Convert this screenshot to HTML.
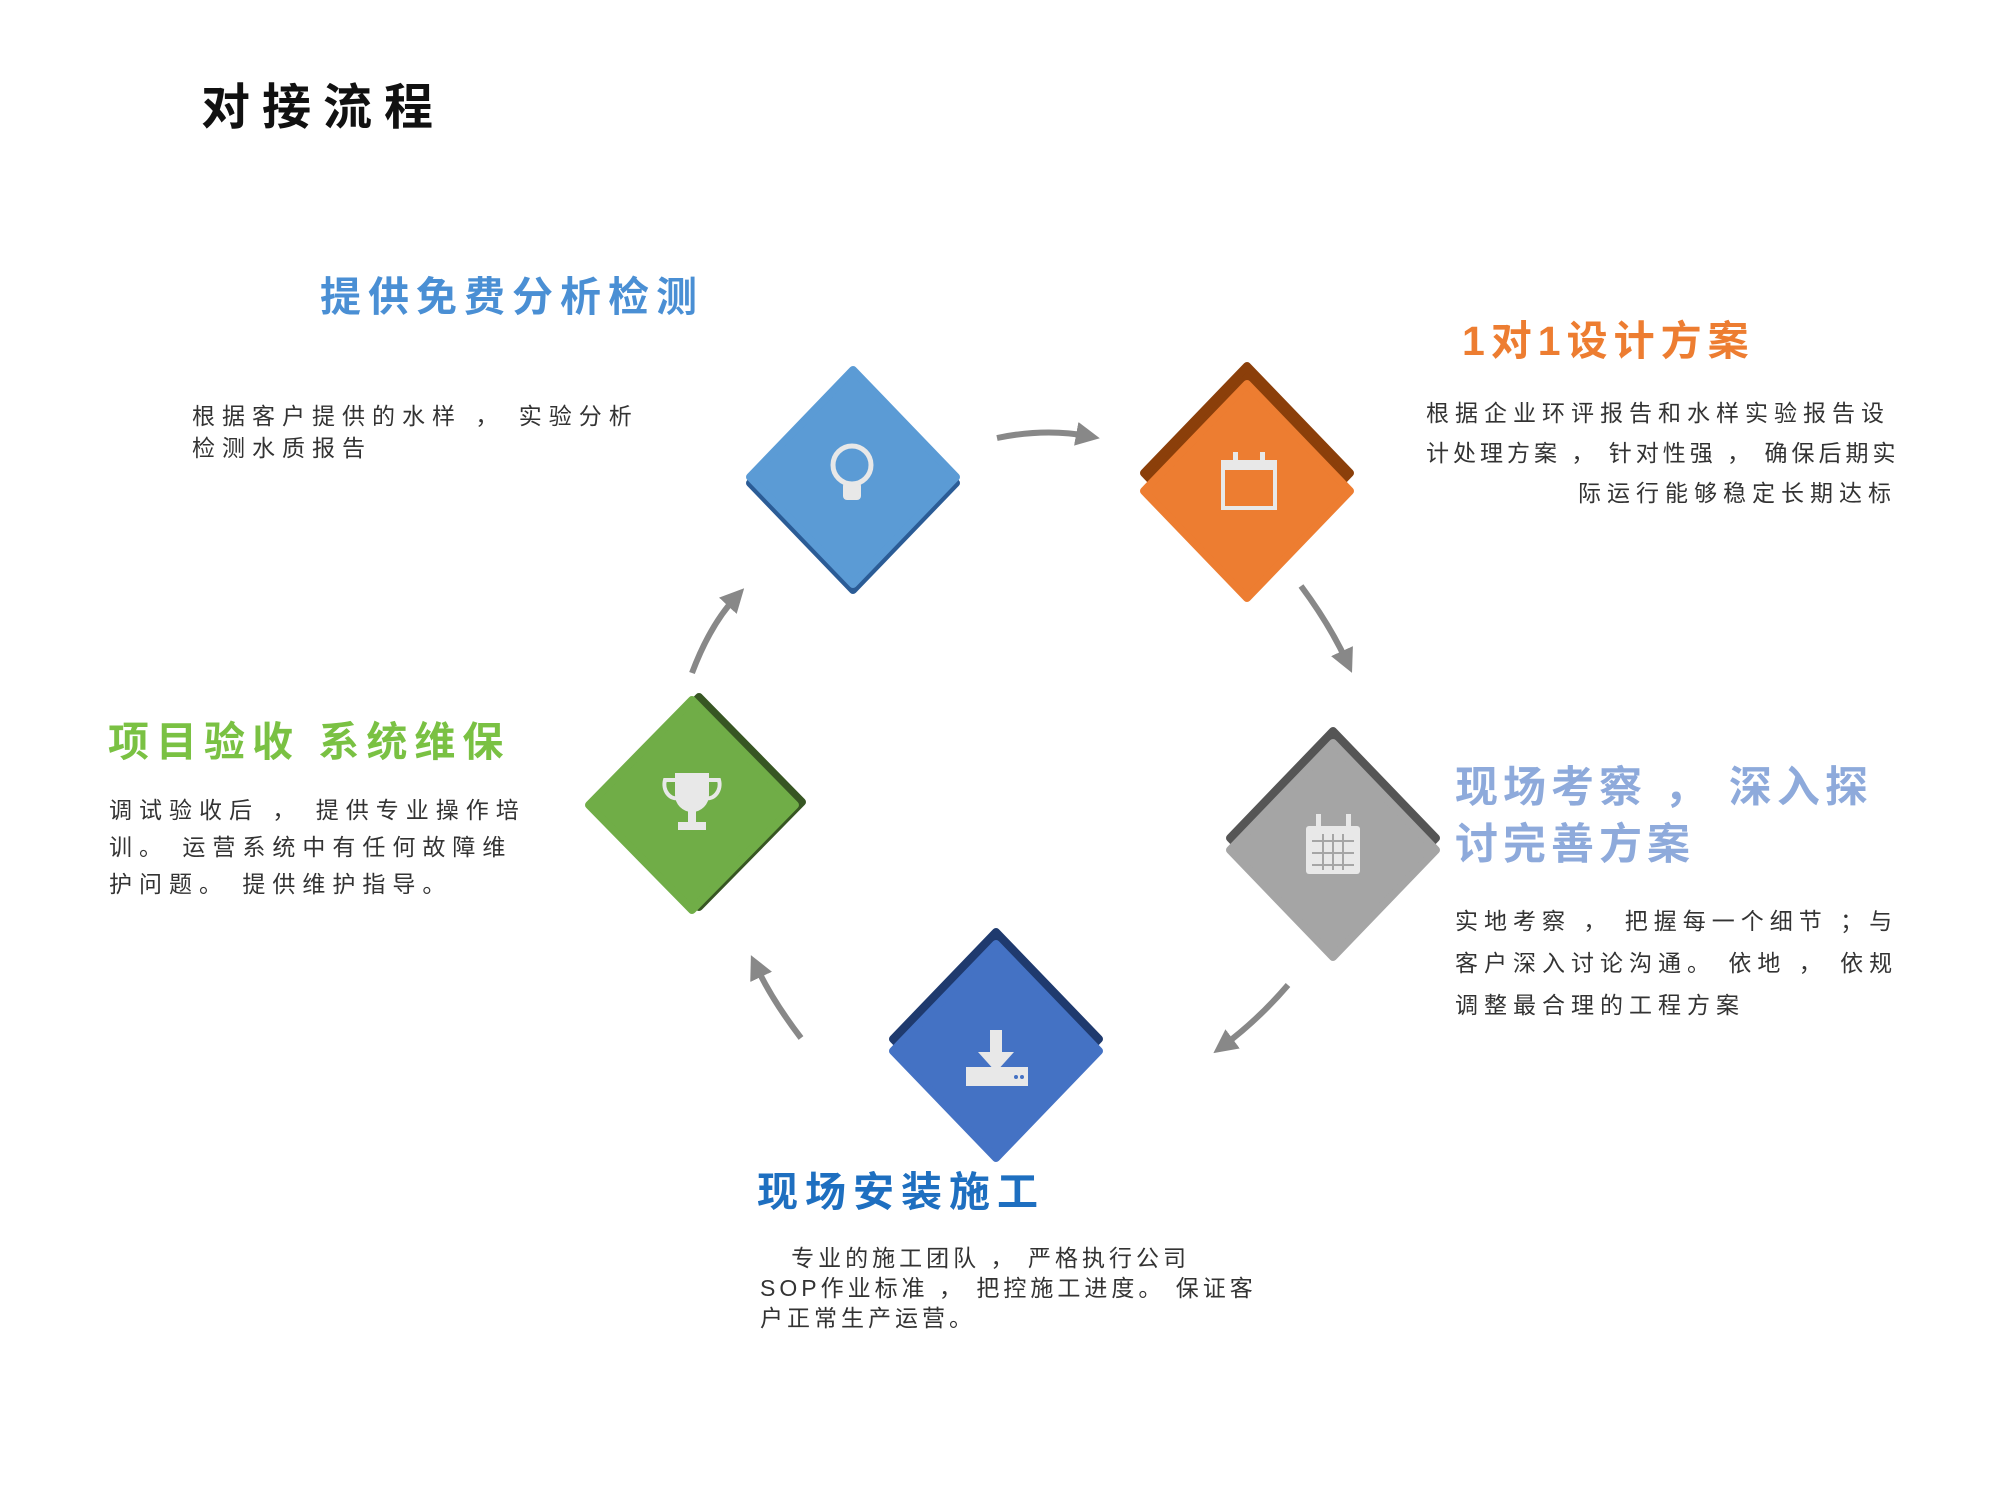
<!DOCTYPE html>
<html><head><meta charset="utf-8"><style>
body{margin:0;width:2000px;height:1500px;background:#fff;position:relative;overflow:hidden;font-family:"Liberation Sans","Noto Sans CJK SC",sans-serif;}
.t{position:absolute;white-space:pre;line-height:1}
.h{font-weight:bold;font-size:41px;letter-spacing:7px}
.d{font-size:23px;letter-spacing:4px;color:#333}
</style></head><body>
<svg width="2000" height="1500" style="position:absolute;left:0;top:0">
<defs>
<marker id="ah" markerWidth="4" markerHeight="4" refX="2" refY="2" orient="auto" markerUnits="strokeWidth"><path d="M0,0 L4,2 L0,4 z" fill="#888"/></marker>
</defs>
<g stroke-linejoin="round" stroke-width="8">
<polygon points="853,376 956,483 853,590 750,483" fill="#2b5c96" stroke="#2b5c96"/>
<polygon points="853,370 956,477 853,584 750,477" fill="#5b9bd5" stroke="#5b9bd5"/>
<polygon points="1247,366 1350,473 1247,580 1144,473" fill="#8b3f0a" stroke="#8b3f0a"/>
<polygon points="1247,384 1350,491 1247,598 1144,491" fill="#ed7d31" stroke="#ed7d31"/>
<polygon points="1333,731 1436,838 1333,945 1230,838" fill="#555" stroke="#555"/>
<polygon points="1333,743 1436,850 1333,957 1230,850" fill="#a5a5a5" stroke="#a5a5a5"/>
<polygon points="996,932 1099,1039 996,1146 893,1039" fill="#1f3a6e" stroke="#1f3a6e"/>
<polygon points="996,944 1099,1051 996,1158 893,1051" fill="#4472c4" stroke="#4472c4"/>
<polygon points="699,697 802,802 699,907 596,802" fill="#375623" stroke="#375623"/>
<polygon points="692,700 795,805 692,910 589,805" fill="#70ad47" stroke="#70ad47"/>
</g>
<g fill="#e8e8e8" stroke="#e8e8e8">
<circle cx="852" cy="465" r="19" fill="none" stroke-width="5"/>
<rect x="843" y="482" width="18" height="18" rx="4" stroke="none"/>
<rect x="1223" y="462" width="52" height="46" fill="none" stroke-width="4"/>
<rect x="1223" y="462" width="52" height="8" stroke="none"/>
<rect x="1233" y="452" width="5" height="14" stroke="none"/><rect x="1260" y="452" width="5" height="14" stroke="none"/>
<rect x="1306" y="826" width="54" height="48" rx="3" stroke="none"/>
<rect x="1316" y="814" width="5" height="14" stroke="none"/><rect x="1346" y="814" width="5" height="14" stroke="none"/>
<rect x="990" y="1030" width="12" height="24" stroke="none"/>
<polygon points="978,1052 1014,1052 996,1072" stroke="none"/>
<rect x="966" y="1067" width="62" height="19" stroke="none"/>
<path d="M675,773 h34 v22 a17,17 0 0 1 -34,0 z" stroke="none"/>
<path d="M675,780 h-10 a12,14 0 0 0 14,18 M709,780 h10 a12,14 0 0 1 -14,18" fill="none" stroke-width="4"/>
<rect x="688" y="810" width="8" height="14" stroke="none"/>
<rect x="678" y="822" width="28" height="8" stroke="none"/>
</g>
<g fill="#a5a5a5"><rect x="1312" y="840" width="42" height="2"/><rect x="1312" y="852" width="42" height="2"/><rect x="1312" y="864" width="42" height="2"/><rect x="1322" y="834" width="2" height="36"/><rect x="1332" y="834" width="2" height="36"/><rect x="1342" y="834" width="2" height="36"/></g>
<g fill="#4472c4"><circle cx="1016" cy="1077" r="2"/><circle cx="1022" cy="1077" r="2"/></g>
<g fill="none" stroke="#888" stroke-width="6" marker-end="url(#ah)">
<path d="M997,438 Q1045,428 1088,436"/>
<path d="M1301,586 Q1330,625 1347,662"/>
<path d="M1288,985 Q1258,1020 1223,1046"/>
<path d="M801,1038 Q772,1000 756,966"/>
<path d="M692,673 Q710,625 736,597"/>
</g>
</svg>
<div class="t" style="left:201px;top:84px;font-size:49px;font-weight:bold;letter-spacing:12px;color:#111">对接流程</div>

<div class="t h" style="left:320px;top:277px;color:#4a8fd4">提供免费分析检测</div>
<div class="t d" style="left:192px;top:400px;line-height:32px;letter-spacing:7px">根据客户提供的水样 ， 实验分析
检测水质报告</div>

<div class="t h" style="left:1462px;top:321px;color:#ed7d31;letter-spacing:6px">1对1设计方案</div>
<div class="t d" style="left:1426px;top:402px;letter-spacing:6px">根据企业环评报告和水样实验报告设</div>
<div class="t d" style="left:1426px;top:442px;letter-spacing:4px">计处理方案 ， 针对性强 ， 确保后期实</div>
<div class="t d" style="left:1400px;top:482px;width:497px;text-align:right;letter-spacing:6px">际运行能够稳定长期达标</div>

<div class="t h" style="left:1455px;top:760px;color:#8eaadb;font-size:43px;line-height:57px;letter-spacing:5px">现场考察 ， 深入探
讨完善方案</div>
<div class="t d" style="left:1455px;top:900px;line-height:42px;letter-spacing:6px">实地考察 ， 把握每一个细节 ；与
客户深入讨论沟通。 依地 ， 依规
调整最合理的工程方案</div>

<div class="t h" style="left:757px;top:1172px;color:#1e6fc0">现场安装施工</div>
<div class="t d" style="left:760px;top:1243px;line-height:30px">   专业的施工团队 ， 严格执行公司
SOP作业标准 ， 把控施工进度。 保证客
户正常生产运营。</div>

<div class="t h" style="left:108px;top:722px;color:#7ac143">项目验收 系统维保</div>
<div class="t d" style="left:109px;top:792px;line-height:37px;letter-spacing:7px">调试验收后 ， 提供专业操作培
训。 运营系统中有任何故障维
护问题。 提供维护指导。</div>
</body></html>
